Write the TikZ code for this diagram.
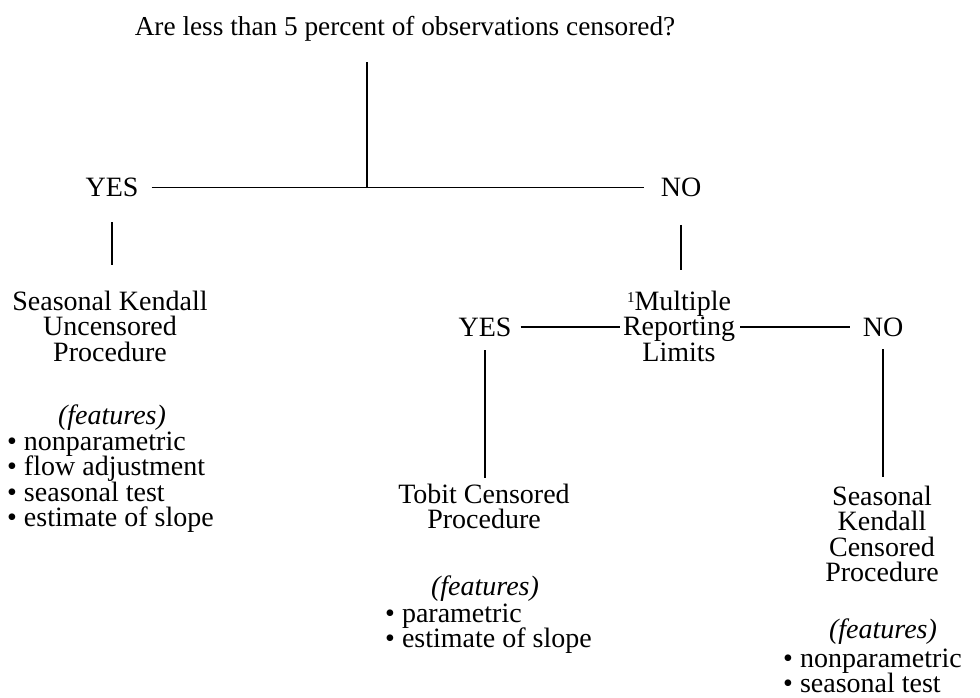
\documentclass[tikz,border=0pt]{standalone}
\usepackage{fontspec}
\setmainfont{Liberation Serif}
\newcommand\myTop{\rule{0pt}{20pt}}
\newcommand\bul{\textbullet\hspace{7pt}}
\newcommand\supone{\raisebox{8pt}{\fontsize{15}{15}\selectfont 1}}
\begin{document}
\lineskiplimit=-30pt
\begin{tikzpicture}[x=1pt,y=-1pt,
  every node/.style={inner sep=0pt, font=\fontsize{28}{25.5}\selectfont},
  lbl/.style={anchor=base},
  blk/.style={anchor=north, align=center},
  feat/.style={anchor=base, font=\fontsize{28}{25.5}\selectfont\itshape},
  lst/.style={anchor=north west, align=left},
  conn/.style={line width=1.6pt}]
\useasboundingbox (0,0) rectangle (980,698);
% question
\node[lbl, font=\fontsize{27.3}{25.5}\selectfont] (q) at (405,36) {Are less than 5 percent of observations censored?};
\coordinate (j) at (367,188);
\node[lbl] (yes) at (112,196.5) {YES};
\node[lbl] (no) at (681,196.5) {NO};
% left branch
\node[blk] (sku) at (110,290) {\myTop Seasonal Kendall\\Uncensored\\Procedure};
\node[feat] (f1) at (112,424) {(features)};
\node[lst] (l1) at (7,430) {\myTop\bul nonparametric\\\bul flow adjustment\\\bul seasonal test\\\bul estimate of slope};
% right branch
\node[blk] (mrl) at (679,290) {\myTop\supone Multiple\\Reporting\\Limits};
\node[lbl] (yes2) at (485,336) {YES};
\node[lbl] (no2) at (883,336) {NO};
\node[blk] (tob) at (484,483) {\myTop Tobit Censored\\Procedure};
\node[feat] (f2) at (485,595) {(features)};
\node[lst] (l2) at (385,602) {\myTop\bul parametric\\\bul estimate of slope};
\node[blk] (skc) at (882,485) {\myTop Seasonal\\Kendall\\Censored\\Procedure};
\node[feat] (f3) at (883,638) {(features)};
\node[lst] (l3) at (783,647) {\myTop\bul nonparametric\\\bul seasonal test};
% connectors
\draw[conn, shorten >=20pt] (j) -- (j |- q.south);
\draw[conn, shorten <=13pt, shorten >=17pt] (yes.east) -- (no.west);
\draw[conn, shorten <=25.5pt, shorten >=25pt] (yes.south) -- (yes.south |- sku.north);
\draw[conn, shorten <=28pt, shorten >=20pt] (no.south) -- (no.south |- mrl.north);
\draw[conn, shorten <=9pt, shorten >=3pt] (yes2.east) -- (yes2.east -| mrl.west);
\draw[conn, shorten <=5pt, shorten >=13pt] (no2.west -| mrl.east) -- (no2.west);
\draw[conn, shorten <=14pt, shorten >=5pt] (yes2.south) -- (yes2.south |- tob.north);
\draw[conn, shorten <=13pt, shorten >=8pt] (no2.south) -- (no2.south |- skc.north);
\end{tikzpicture}
\end{document}
